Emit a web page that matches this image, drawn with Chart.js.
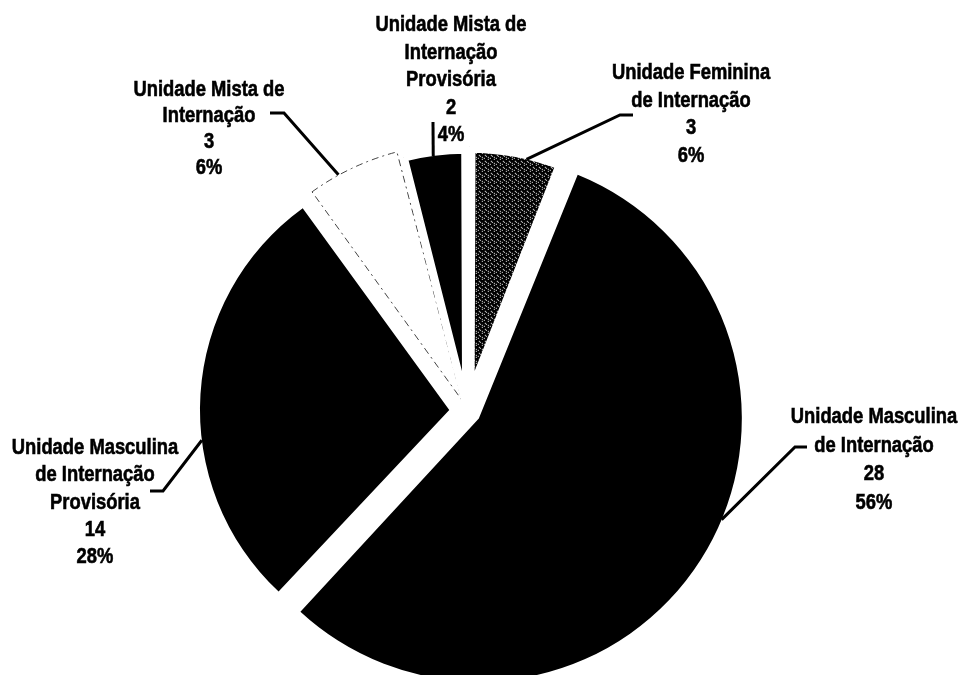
<!DOCTYPE html>
<html>
<head>
<meta charset="utf-8">
<title>Unidades de Internação</title>
<script src="https://cdn.jsdelivr.net/npm/chart.js@4.4.1/dist/chart.umd.min.js"></script>
<style>
  body { margin: 0; background: #fff; }
  #grafico { display: block; }
</style>
</head>
<body>
<canvas id="grafico" width="961" height="675"></canvas>
<script>
// dados (sentido horário a partir do topo)
var unidades = [
    ['Unidade Feminina', 'de Internação'],
    ['Unidade Masculina', 'de Internação'],
    ['Unidade Masculina', 'de Internação', 'Provisória'],
    ['Unidade Mista de', 'Internação'],
    ['Unidade Mista de', 'Internação', 'Provisória']
];
var quantidades = [3, 28, 14, 3, 2];

// posição dos rótulos e das linhas de chamada
var rotulos = [
    { x: 691, y: 73, gap: 27.5, linha: [[633, 115], [620, 115]], ang: 13.4 },
    { x: 874, y: 417, gap: 28.5, linha: [[807, 447], [795, 447]], ang: 112.6 },
    { x: 95, y: 448, gap: 27.3, linha: [[150, 491], [163, 491]], ang: 263 },
    { x: 209, y: 90, gap: 26, linha: [[270, 113], [284, 113]], ang: 331.3 },
    { x: 451, y: 25, gap: 27.5, linha: [[433, 122]], ang: 352.45 }
];

var canvas = document.getElementById('grafico');
var ctx = canvas.getContext('2d');

// preenchimento pontilhado da fatia feminina
var tile = document.createElement('canvas');
tile.width = 6;
tile.height = 6;
var tc = tile.getContext('2d');
tc.fillStyle = '#000';
tc.fillRect(0, 0, 6, 6);
tc.fillStyle = '#fff';
[[0, 0], [3, 2], [4, 3], [0, 4], [2, 5]].forEach(function (p) {
    tc.fillRect(p[0], p[1], 1, 1);
});
var pontilhado = ctx.createPattern(tile, 'repeat');

var total = quantidades.reduce(function (a, b) { return a + b; }, 0);

var FONTE = "bold 22px 'Liberation Sans', Arial, sans-serif";
var ESTREITO = 0.835;

function pontoNaBorda(arc, graus) {
    var o = arc.options;
    var u = (o.offset || 0) / 4;
    var meio = (arc.startAngle + arc.endAngle) / 2;
    var circ = arc.endAngle - arc.startAngle;
    var fix = 1 - Math.sin(Math.min(Math.PI, circ));
    var bw = (o.borderWidth || 0) / 2;
    var r = arc.outerRadius + u * fix + (o.borderColor === '#fff' ? -bw : bw);
    var a = (graus - 90) * Math.PI / 180;
    return [
        arc.x + Math.cos(meio) * u + Math.cos(a) * r,
        arc.y + Math.sin(meio) * u + Math.sin(a) * r
    ];
}

var pluginRotulos = {
    id: 'rotulos',
    afterDatasetsDraw: function (chart) {
        var c = chart.ctx;
        var arcs = chart.getDatasetMeta(0).data;
        c.save();
        c.strokeStyle = '#000';
        c.lineJoin = 'miter';
        rotulos.forEach(function (lb, i) {
            var fim = pontoNaBorda(arcs[i], lb.ang);
            c.lineWidth = 3;
            c.beginPath();
            c.moveTo(lb.linha[0][0], lb.linha[0][1]);
            for (var k = 1; k < lb.linha.length; k++) {
                c.lineTo(lb.linha[k][0], lb.linha[k][1]);
            }
            c.lineTo(fim[0], fim[1]);
            c.stroke();

            var linhas = unidades[i].concat([String(quantidades[i]),
                Math.round(quantidades[i] / total * 100) + '%']);
            c.fillStyle = '#000';
            c.font = FONTE;
            c.textAlign = 'center';
            c.textBaseline = 'middle';
            c.lineWidth = 0.6;
            linhas.forEach(function (t, j) {
                c.save();
                c.translate(lb.x, lb.y + j * lb.gap);
                c.scale(ESTREITO, 1);
                c.fillText(t, 0, 0);
                c.strokeText(t, 0, 0);
                c.restore();
            });
        });
        c.restore();
    }
};

var grafico = new Chart(ctx, {
    type: 'pie',
    data: {
        labels: unidades,
        datasets: [{
            data: quantidades,
            backgroundColor: [pontilhado, '#000', '#000', '#fff', '#000'],
            borderColor: ['#fff', '#000', '#000', '#444', '#fff'],
            borderWidth: [11.6, 0, 0, 1, 8.1],
            borderJoinStyle: 'bevel',
            borderDash: function (c) { return c.dataIndex === 3 ? [7, 4, 2, 4] : []; },
            offset: [37.6, 56, 71, 48, 28.2],
            radius: 249
        }]
    },
    options: {
        responsive: false,
        animation: false,
        events: [],
        layout: { padding: { top: 147, bottom: 0, left: 0, right: 27 } },
        plugins: {
            legend: { display: false },
            tooltip: { enabled: false }
        }
    },
    plugins: [pluginRotulos]
});
</script>
</body>
</html>
